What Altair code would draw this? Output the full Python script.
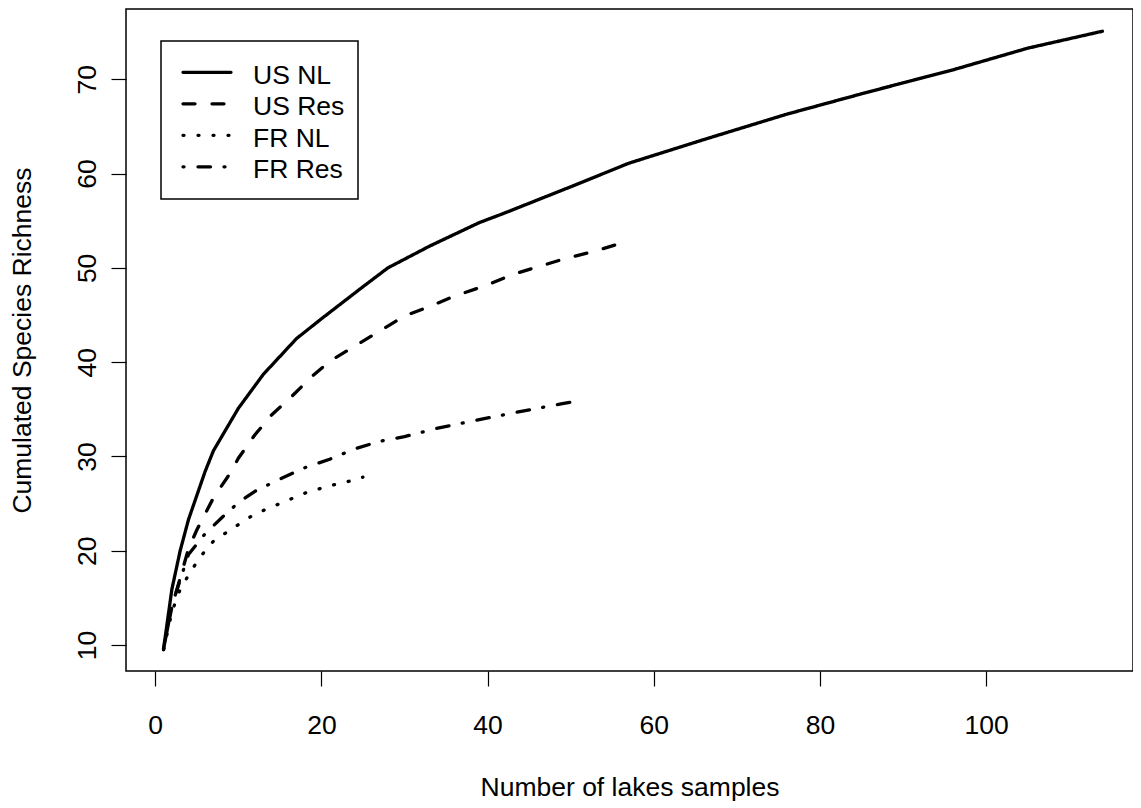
import altair as alt
import pandas as pd

series_names = ["US NL", "US Res", "FR NL", "FR Res"]

us_nl_x = [1, 2, 3, 4, 6, 7, 10, 13, 17, 20, 25, 28, 33, 39, 42, 46, 50, 57, 66, 76, 86, 96, 105, 114]
us_nl_y = [9.6, 15.9, 20.0, 23.3, 28.4, 30.6, 35.1, 38.7, 42.5, 44.6, 48.0, 50.0, 52.3, 54.8, 55.8,
           57.2, 58.6, 61.1, 63.6, 66.3, 68.7, 71.0, 73.3, 75.1]

us_res_x = [1, 2, 4, 5, 7, 9, 10, 12, 14, 16, 19, 21, 24, 27, 30, 33, 36, 40, 43, 46, 49, 53, 56, 57]
us_res_y = [9.6, 14.0, 20.2, 22.2, 25.6, 28.2, 29.8, 32.3, 34.4, 36.0, 38.6, 40.1, 41.7, 43.3, 44.9, 45.9,
            47.0, 48.2, 49.3, 50.1, 50.9, 51.8, 52.6, 53.0]

fr_nl_x = [1, 2, 3, 4, 5, 6, 7, 9, 12, 15, 18, 21, 24, 25]
fr_nl_y = [9.5, 13.5, 15.9, 17.4, 18.8, 20.0, 21.0, 22.2, 23.9, 25.0, 26.1, 26.9, 27.5, 27.8]

fr_res_x = [1, 2, 4, 5, 6, 8, 10, 12, 15, 18, 21, 24, 27, 30, 34, 39, 43, 46, 49, 51]
fr_res_y = [9.5, 14.2, 19.6, 20.7, 21.8, 23.5, 25.1, 26.3, 27.6, 28.8, 29.7, 30.8, 31.6, 32.1, 33.0,
            33.9, 34.6, 35.1, 35.6, 35.9]

x_ticks = [0, 20, 40, 60, 80, 100]
y_ticks = [10, 20, 30, 40, 50, 60, 70]

rows = []
for name, xs, ys in [("US NL", us_nl_x, us_nl_y), ("US Res", us_res_x, us_res_y),
                     ("FR NL", fr_nl_x, fr_nl_y), ("FR Res", fr_res_x, fr_res_y)]:
    for i, (a, b) in enumerate(zip(xs, ys)):
        rows.append({"series": name, "lakes": a, "richness": b, "order": i})
df = pd.DataFrame(rows)

FONT = "Liberation Sans"
FS = 26.5
LW = 3.3

dash_scale = alt.Scale(domain=series_names,
                       range=[[1, 0], [12, 17], [1, 14], [1, 14, 12.5, 13.5]])

lines = alt.Chart(df).mark_line(color="black", strokeWidth=LW, strokeCap="round",
                                strokeJoin="round").encode(
    x=alt.X("lakes:Q",
            scale=alt.Scale(domain=[-3.52, 117.68], nice=False, zero=False),
            axis=alt.Axis(values=x_ticks, title="Number of lakes samples", grid=False,
                          domain=False, tickSize=15, tickColor="black", tickWidth=1.2,
                          labelFont=FONT, labelFontSize=FS, labelColor="black",
                          labelBaseline="alphabetic", labelPadding=47,
                          labelFlush=False, labelOverlap=False,
                          titleFont=FONT, titleFontSize=FS, titleFontWeight="normal",
                          titleColor="black", titleBaseline="alphabetic", titleY=124)),
    y=alt.Y("richness:Q",
            scale=alt.Scale(domain=[7.24, 77.46], nice=False, zero=False),
            axis=alt.Axis(values=y_ticks, title="Cumulated Species Richness", grid=False,
                          domain=False, tickSize=15, tickColor="black", tickWidth=1.2,
                          labelFont=FONT, labelFontSize=FS, labelColor="black",
                          labelAngle=270, labelAlign="center", labelBaseline="alphabetic",
                          labelPadding=16, labelFlush=False, labelOverlap=False,
                          titleFont=FONT, titleFontSize=FS, titleFontWeight="normal",
                          titleColor="black", titleAngle=270, titleAlign="center",
                          titleBaseline="alphabetic", titleX=-96, titleY=331)),
    strokeDash=alt.StrokeDash("series:N", scale=dash_scale, legend=None),
    order=alt.Order("order:Q"),
)

legend_box = alt.Chart(pd.DataFrame({"k": [0]})).mark_rect(
    fill="white", stroke="black", strokeWidth=1.5).encode(
    x=alt.value(35), x2=alt.value(232), y=alt.value(32), y2=alt.value(190))

legend_layers = [legend_box]
for i, name in enumerate(series_names):
    ld = pd.DataFrame({"label": [name]})
    ry = 63.3 + 31.5 * i
    legend_layers.append(
        alt.Chart(ld).mark_rule(color="black", strokeWidth=LW, strokeCap="round").encode(
            x=alt.value(57), x2=alt.value(105), y=alt.value(ry),
            strokeDash=alt.StrokeDash("label:N", scale=dash_scale, legend=None)))
    legend_layers.append(
        alt.Chart(ld).mark_text(font=FONT, fontSize=FS, color="black", align="left",
                                baseline="alphabetic").encode(
            x=alt.value(127), y=alt.value(ry + 11.5), text=alt.Text("label:N")))

chart = alt.layer(lines, *legend_layers).properties(
    width=1007, height=662,
    padding={"left": 118, "top": 1, "right": 0, "bottom": 130},
    autosize=alt.AutoSizeParams(type="none"),
).configure_view(stroke="black", strokeWidth=1.5)

chart.save("out.html", embed_options={"renderer": "svg", "actions": False})
